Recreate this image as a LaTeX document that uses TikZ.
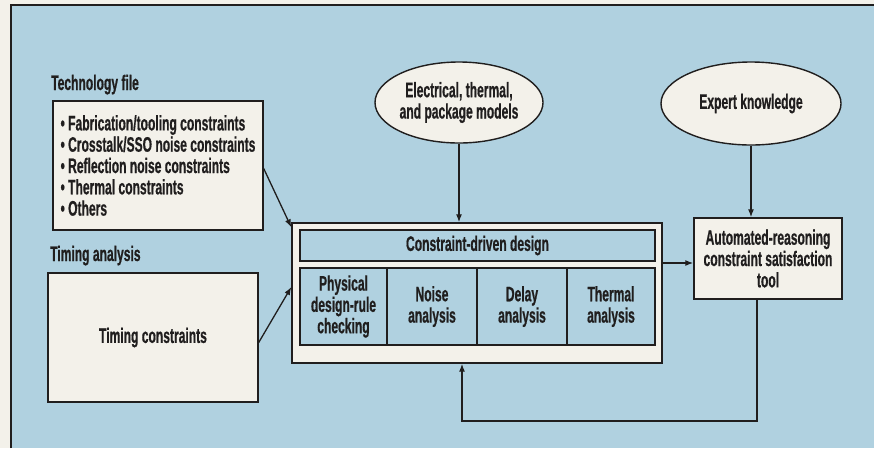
\documentclass[tikz,border=0pt]{standalone}
\usepackage{fontspec}
\newfontfamily\condfont{Liberation Sans}[FakeStretch=0.575, FakeBold=0.6]
\usetikzlibrary{shapes.geometric,arrows.meta}
\definecolor{panel}{RGB}{176,209,224}
\definecolor{paper}{RGB}{243,241,234}
\definecolor{ink}{RGB}{32,30,30}

\begin{document}
\begin{tikzpicture}[x=1pt,y=-1pt,
  every node/.style={font=\condfont\bfseries\fontsize{21}{21.3}\selectfont, text=ink},
  box/.style={draw=ink, line width=1.4pt, fill=paper, inner sep=0pt, align=center},
  cell/.style={draw=ink, line width=1.4pt, fill=panel, inner sep=0pt, align=center, minimum height=77pt},
  oval/.style={ellipse, draw=ink, line width=1.4pt, fill=paper, inner sep=0pt, align=center},
  caption/.style={anchor=base west, inner sep=0pt},
  arr/.style={draw=ink, line width=1.3pt, -{Latex[length=8pt,width=6pt]}}]

% page and panel
\useasboundingbox (0,0) rectangle (874,448);
\fill[paper] (0,0) rectangle (874,448);
\fill[panel] (11,5) rectangle (874,448);
\draw[ink, line width=1.2pt] (11,448) -- (11,5) -- (874,5);

% inputs on the left
\node[caption] (techlbl) at (51,90) {Technology file};
\node[box, minimum width=210pt, minimum height=129pt, align=left]
  (tech) at (158,165.5)
  {• Fabrication/tooling constraints\\
   • Crosstalk/SSO noise constraints\\
   • Reflection noise constraints\\
   • Thermal constraints\\
   • Others};

\node[caption] (timelbl) at (50,261) {Timing analysis};
\node[box, minimum width=210pt, minimum height=129pt] (timing) at (153,337.5) {Timing constraints};

% model sources
\node[oval, minimum width=168pt, minimum height=81pt] (models) at (459,102.5)
  {Electrical, thermal,\\and package models};
\node[oval, minimum width=180pt, minimum height=83pt] (expert) at (751,103.5)
  {Expert knowledge};

% constraint-driven design block
\node[box, minimum width=370pt, minimum height=140pt] (outer) at (477,293) {};
\node[cell, minimum width=355pt, minimum height=31pt] (cdd) at (477.5,245.5) {Constraint-driven design};
\node[cell, minimum width=87pt] (phys) at (343.5,306.5) {Physical\\design-rule\\checking};
\node[cell, minimum width=90pt] (noise) at (432,306.5) {Noise\\analysis};
\node[cell, minimum width=90pt] (delay) at (522,306.5) {Delay\\analysis};
\node[cell, minimum width=88pt] (therm) at (611,306.5) {Thermal\\analysis};

% reasoning tool
\node[box, minimum width=148pt, minimum height=81pt] (auto) at (768,258.5)
  {Automated-reasoning\\constraint satisfaction\\tool};

% connectors
\draw[arr] ([yshift=-3pt]tech.east) -- ([yshift=-5pt]outer.north west);
\draw[arr] ([yshift=-5pt]timing.east) -- ([yshift=6pt]outer.west);
\draw[arr] (models.south) -- (models.south |- outer.north);
\draw[arr] (expert.south) -- (expert.south |- auto.north);
\coordinate (ain) at ([yshift=-4.5pt]auto.west);
\draw[arr] (outer.east |- ain) -- (ain);
\coordinate (loop) at (462,421);
\draw[arr] ([xshift=-11pt]auto.south) |- (loop) -- (loop |- outer.south);
\end{tikzpicture}
\end{document}
